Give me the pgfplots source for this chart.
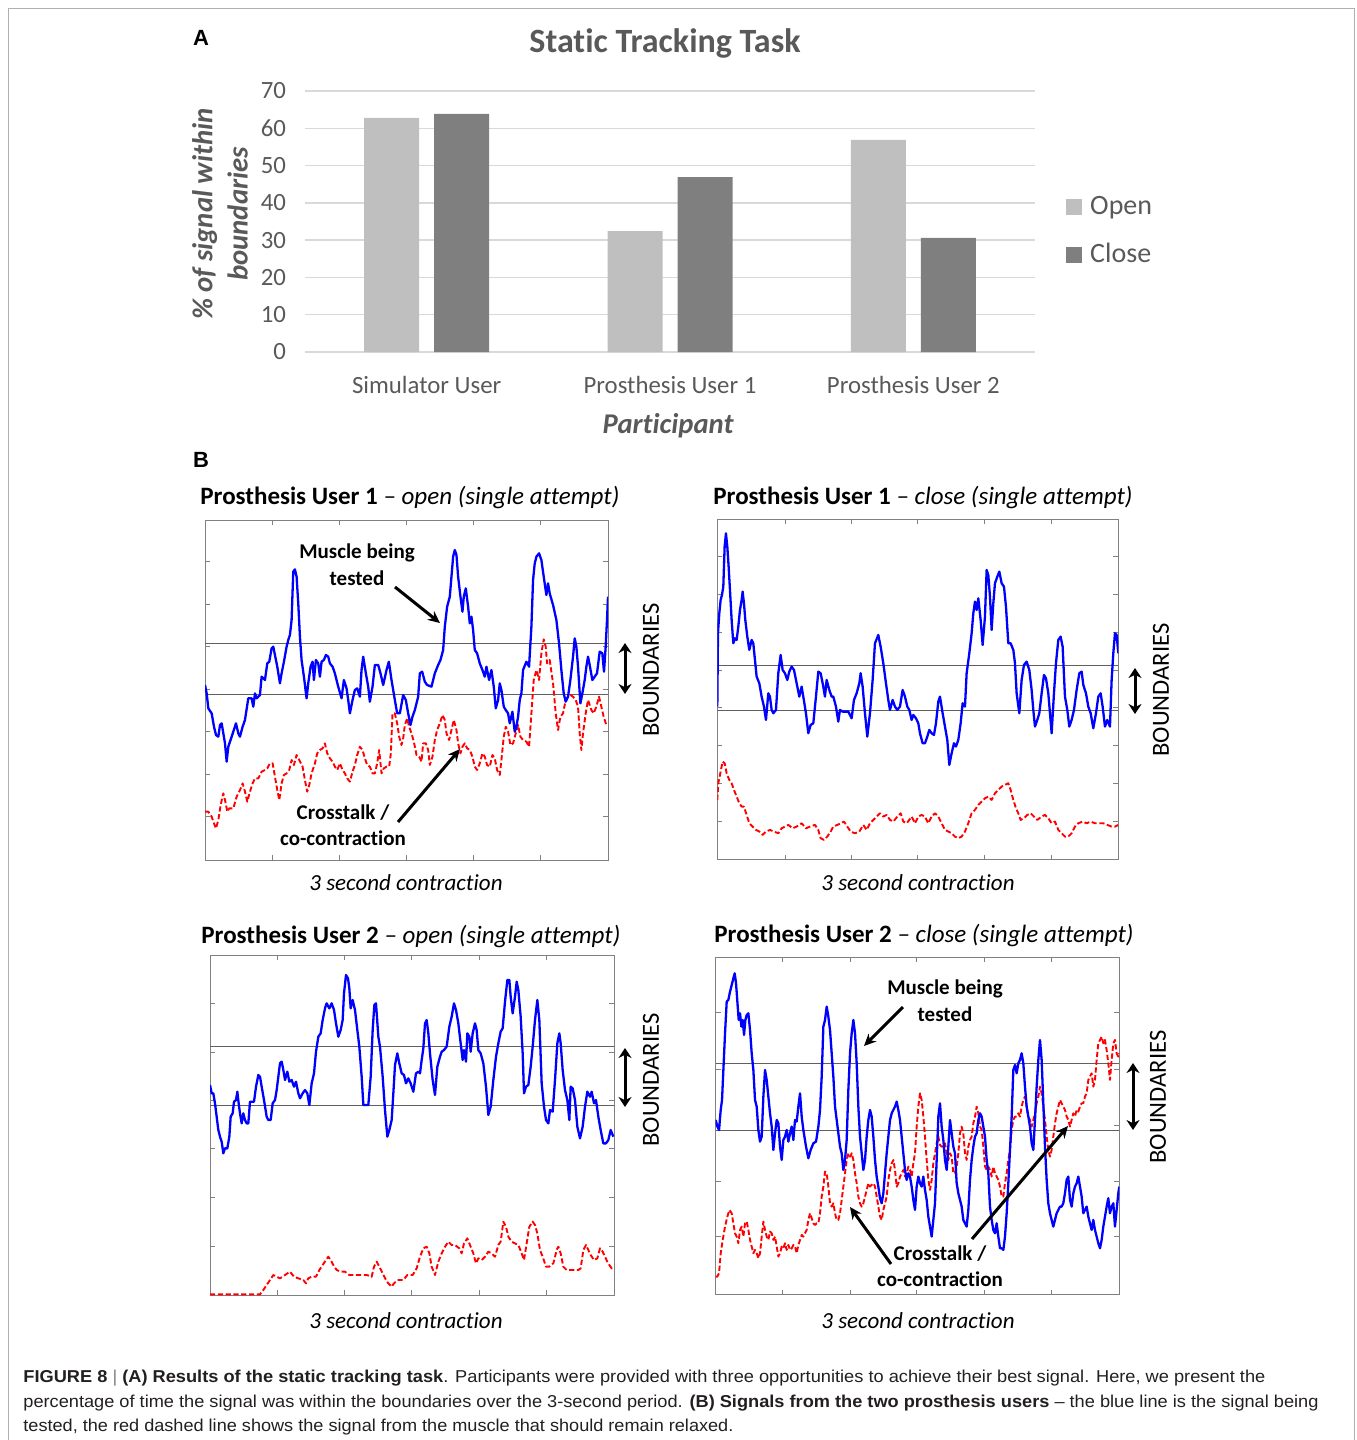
\documentclass[border=0pt]{standalone}
\usepackage{pgfplots}
\pgfplotsset{compat=1.18}
\usepackage{fontspec}
\usetikzlibrary{arrows.meta}
\setmainfont{Carlito}[Ligatures=NoCommon]
\newfontfamily\capfont{Liberation Sans}
\definecolor{txtgray}{HTML}{595959}
\definecolor{gridgray}{HTML}{D9D9D9}
\definecolor{openc}{HTML}{BFBFBF}
\definecolor{closec}{HTML}{7F7F7F}
\definecolor{boxgray}{HTML}{808080}
\definecolor{bndgray}{HTML}{606060}
\definecolor{frame}{HTML}{B0B0B0}
\definecolor{captxt}{HTML}{231F20}
\pgfplotsset{
  sigpanel/.style={
    scale only axis, anchor=north west, y dir=reverse,
    axis line style={boxgray, line width=0.5pt},
    major tick style={boxgray, line width=0.4pt},
    major tick length=2.5pt,
    xticklabels={}, yticklabels={},
    clip=true,
  },
  blueline/.style={color={rgb,255:red,0;green,0;blue,255}, line width=1.15pt, line join=round, no marks},
  redline/.style={color={rgb,255:red,255;green,0;blue,0}, line width=0.95pt, dash pattern=on 2.6pt off 1.3pt, line join=round, no marks},
  bndline/.style={bndgray, line width=0.5pt, no marks},
}
\begin{document}
\begin{tikzpicture}
\path[use as bounding box] (0,0) rectangle (678pt,-720pt);
\draw[frame, line width=0.5pt] (4pt,-720pt) -- (4pt,-4pt) -- (677pt,-4pt) -- (677pt,-720pt);

% ---------------- Part A: bar chart ----------------
\begin{axis}[
  at={(152.5pt,-176pt)}, anchor=south west,
  scale only axis, width=365pt, height=130.5pt,
  ybar, bar width=27.5pt,
  xmin=-0.5, xmax=2.5, ymin=0, ymax=70,
  ytick={0,10,...,70}, xtick={0,1,2},
  xticklabels={Simulator User, Prosthesis User 1, Prosthesis User 2},
  axis line style={draw=none}, major tick style={draw=none},
  ymajorgrids, grid style={gridgray, line width=0.7pt},
  /pgf/number format/assume math mode=true,
  tick label style={text=txtgray, font=\fontsize{12.4}{14}\selectfont},
  yticklabel style={xshift=-6pt},
  xticklabel style={yshift=-4.5pt},
  legend style={draw=none, fill=none, at={(1.034,0.4636)}, anchor=west,
    font=\fontsize{14}{16}\selectfont, text=txtgray, row sep=11pt,
    nodes={inner sep=1pt},
    /tikz/every odd column/.append style={column sep=3pt}},
  legend cell align=left,
]
\addplot[fill=openc, draw=none, bar shift=-17.5pt,
  legend image code/.code={\fill[openc] (0pt,-4pt) rectangle (8pt,4pt);}]
  coordinates {(0,62.8) (1,32.4) (2,56.9)};
\addplot[fill=closec, draw=none, bar shift=17.5pt,
  legend image code/.code={\fill[closec] (0pt,-4pt) rectangle (8pt,4pt);}]
  coordinates {(0,63.9) (1,46.9) (2,30.6)};
\legend{Open, Close}
\end{axis}

\begin{scope}[x=0.5pt, y=-0.5pt]
\node[font=\capfont\bfseries\fontsize{11}{13}\selectfont] at (201,38) {A};
\node[font=\bfseries\fontsize{17}{20}\selectfont, text=txtgray] at (665,43) {Static Tracking Task};
\node[font=\bfseries\itshape\fontsize{14.4}{17.5}\selectfont, text=txtgray, rotate=90, align=center] at (220,214) {\% of signal within\\boundaries};
\node[font=\bfseries\itshape\fontsize{14.3}{16}\selectfont, text=txtgray] at (668,426) {Participant};
\node[font=\capfont\bfseries\fontsize{11}{13}\selectfont] at (201,460) {B};
\end{scope}

% ---------------- Panel 1: PU1 open ----------------
\begin{axis}[sigpanel, at={(102.5pt,-260pt)}, width=201.5pt, height=170pt,
  xmin=45, xmax=1255, ymin=120, ymax=1140,
  xtick={247,449,650,851,1052}, ytick={245,373,500,628,755,882,1010}]
\addplot[bndline] coordinates {(45,490) (1255,490)};
\addplot[bndline] coordinates {(45,643) (1255,643)};
\addplot[redline] coordinates {(45,995) (55,995) (65,1010) (72,1030) (78,1045) (85,1020) (92,975) (100,940) (105,960) (112,995) (118,985) (130,985) (140,950) (150,930) (158,910) (165,935) (172,965) (180,935) (188,910) (195,895) (205,895) (215,875) (225,870) (232,865) (240,850) (248,850) (255,890) (262,930) (268,960) (275,910) (282,885) (290,880) (298,870) (305,840) (312,855) (320,825) (328,840) (338,860) (345,900) (352,935) (358,915) (365,880) (375,850) (382,820) (390,810) (398,805) (405,790) (412,820) (420,835) (428,845) (435,860) (442,870) (450,850) (458,870) (465,880) (472,895) (480,905) (488,875) (495,855) (502,825) (510,800) (518,810) (525,835) (532,855) (540,860) (548,880) (555,880) (562,850) (568,810) (575,880) (582,865) (590,860) (598,860) (603,820) (608,700) (615,700) (622,730) (628,770) (635,795) (640,775) (645,735) (652,715) (658,740) (665,760) (672,785) (680,825) (688,830) (695,845) (700,790) (708,790) (715,810) (720,855) (728,830) (735,780) (742,750) (750,730) (758,705) (765,720) (770,760) (778,780) (785,750) (792,720) (800,750) (805,790) (812,820) (818,800) (825,790) (832,805) (840,810) (848,830) (855,860) (862,870) (870,850) (878,820) (885,830) (892,855) (900,860) (908,825) (915,835) (922,870) (930,885) (935,840) (942,770) (948,740) (955,755) (962,795) (970,790) (978,760) (985,735) (992,770) (1000,780) (1010,785) (1018,800) (1025,700) (1032,600) (1040,570) (1048,600) (1055,520) (1062,478) (1068,500) (1072,550) (1080,540) (1090,610) (1098,700) (1105,750) (1112,710) (1120,700) (1128,660) (1135,650) (1142,645) (1150,650) (1158,660) (1165,680) (1170,760) (1175,810) (1180,760) (1188,700) (1195,660) (1205,690) (1212,700) (1220,680) (1228,650) (1235,680) (1242,710) (1250,735)};
\addplot[blueline] coordinates {(45,615) (50,640) (55,685) (65,700) (72,740) (78,765) (85,770) (90,735) (95,730) (100,760) (105,790) (110,845) (115,800) (125,770) (130,755) (138,730) (145,760) (150,770) (158,740) (165,720) (175,655) (185,655) (190,680) (195,640) (200,655) (210,645) (215,590) (225,600) (232,550) (238,545) (245,505) (250,500) (255,525) (262,560) (270,610) (275,580) (282,545) (290,500) (295,480) (300,465) (305,420) (310,275) (315,268) (320,290) (325,370) (330,470) (335,540) (342,590) (350,655) (355,610) (362,560) (368,545) (372,600) (378,540) (385,550) (390,590) (395,545) (402,540) (408,525) (415,530) (420,550) (428,560) (435,580) (445,620) (455,655) (462,600) (470,625) (475,660) (480,700) (488,660) (495,630) (502,625) (510,650) (515,570) (520,530) (528,580) (535,620) (540,665) (548,620) (555,555) (565,555) (572,580) (580,615) (590,570) (597,545) (605,600) (615,660) (622,700) (630,700) (640,645) (648,660) (655,700) (662,735) (668,710) (675,690) (685,650) (690,580) (697,575) (705,605) (712,615) (725,620) (735,580) (745,555) (752,540) (760,510) (765,440) (772,380) (780,350) (790,230) (795,210) (800,225) (805,290) (812,350) (818,395) (822,350) (828,325) (835,380) (840,430) (845,410) (850,450) (855,510) (862,520) (870,550) (878,570) (885,590) (890,560) (898,600) (905,570) (912,620) (918,685) (925,660) (930,610) (935,630) (942,680) (948,690) (955,700) (960,730) (968,695) (975,755) (980,740) (985,710) (990,660) (995,640) (1000,570) (1010,545) (1018,560) (1025,440) (1030,300) (1035,250) (1040,230) (1048,220) (1055,240) (1062,290) (1070,345) (1075,310) (1080,340) (1090,375) (1100,420) (1108,490) (1115,570) (1122,640) (1128,665) (1135,650) (1142,600) (1150,530) (1155,475) (1160,500) (1165,560) (1172,670) (1178,640) (1185,600) (1190,560) (1195,530) (1200,555) (1208,600) (1215,590) (1222,580) (1230,515) (1238,520) (1243,575) (1248,500) (1252,420) (1255,350)};
\end{axis}

% ---------------- Panel 2: PU1 close ----------------
\begin{axis}[sigpanel, at={(358.65pt,-259.65pt)}, width=200.5pt, height=170.3pt,
  xmin=52, xmax=1255, ymin=118, ymax=1140,
  xtick={255,455,653,853,1053}, ytick={228,342,456,570,683,797,911,1025}]
\addplot[bndline] coordinates {(52,558) (1255,558)};
\addplot[bndline] coordinates {(52,693) (1255,693)};
\addplot[redline] coordinates {(52,960) (55,910) (62,875) (68,845) (74,850) (80,880) (88,900) (95,910) (102,930) (110,950) (118,970) (125,980) (132,980) (140,1005) (148,1030) (158,1040) (168,1050) (178,1055) (188,1065) (198,1055) (210,1050) (222,1055) (235,1060) (245,1045) (255,1040) (265,1035) (278,1045) (290,1040) (305,1030) (318,1045) (330,1040) (345,1035) (355,1050) (362,1075) (372,1080) (382,1070) (392,1055) (400,1040) (412,1035) (422,1030) (432,1025) (442,1040) (452,1055) (465,1060) (478,1055) (490,1035) (500,1050) (510,1030) (520,1020) (530,1010) (540,1000) (550,1010) (560,1005) (570,1020) (580,1025) (592,1010) (602,1000) (610,1025) (620,1030) (628,1020) (635,1010) (645,1030) (655,1010) (665,1005) (675,1010) (685,1030) (695,1010) (705,1000) (715,1010) (725,1030) (735,1050) (745,1055) (755,1060) (765,1070) (775,1075) (785,1070) (795,1055) (805,1030) (815,1000) (825,990) (835,975) (845,965) (855,955) (865,950) (875,960) (885,940) (895,930) (905,920) (915,915) (925,910) (932,930) (940,960) (948,985) (955,1000) (962,1020) (972,1015) (982,1005) (992,1000) (1002,1010) (1012,1020) (1025,1010) (1035,1005) (1045,1015) (1055,1030) (1065,1025) (1075,1050) (1085,1060) (1095,1070) (1105,1070) (1115,1060) (1125,1040) (1135,1030) (1148,1025) (1160,1030) (1172,1025) (1185,1030) (1198,1030) (1210,1030) (1222,1035) (1235,1040) (1245,1040) (1255,1035)};
\addplot[blueline] coordinates {(52,680) (54,460) (58,400) (62,360) (66,345) (70,320) (74,200) (78,160) (82,200) (86,260) (90,330) (95,420) (100,490) (105,475) (110,480) (115,440) (120,390) (125,360) (128,335) (132,370) (136,420) (142,470) (148,510) (155,480) (160,490) (165,540) (170,590) (178,610) (185,650) (192,680) (198,720) (205,640) (210,650) (215,690) (220,700) (228,690) (235,580) (242,525) (248,570) (255,580) (262,600) (268,575) (275,560) (282,570) (290,610) (298,650) (305,620) (310,650) (318,700) (325,760) (332,735) (340,730) (348,650) (355,575) (362,580) (370,620) (375,650) (380,600) (388,630) (395,650) (400,650) (408,680) (415,725) (420,690) (428,695) (435,695) (445,695) (455,715) (462,660) (470,640) (478,610) (482,580) (488,620) (495,700) (502,770) (510,700) (518,600) (525,490) (535,465) (542,500) (550,550) (558,610) (565,660) (570,690) (578,660) (585,680) (592,690) (600,680) (608,630) (615,650) (622,680) (628,690) (635,720) (640,705) (648,715) (655,730) (660,760) (668,790) (675,790) (682,770) (688,750) (695,760) (702,765) (708,730) (715,665) (720,650) (728,700) (735,740) (742,780) (748,855) (755,820) (762,790) (768,800) (775,780) (782,730) (788,670) (795,680) (800,580) (808,520) (815,460) (820,400) (825,365) (830,390) (835,355) (842,420) (848,495) (855,410) (860,270) (865,285) (870,350) (875,450) (880,370) (885,310) (892,290) (898,275) (905,310) (912,320) (918,380) (925,490) (932,490) (940,510) (945,550) (950,640) (958,700) (965,600) (972,555) (980,545) (988,570) (995,630) (1000,690) (1005,740) (1012,720) (1018,700) (1025,640) (1032,585) (1038,595) (1045,640) (1050,700) (1055,760) (1062,640) (1068,550) (1075,480) (1082,470) (1088,500) (1095,650) (1102,690) (1108,740) (1115,720) (1122,690) (1130,630) (1138,580) (1145,575) (1150,615) (1158,640) (1165,680) (1172,700) (1180,745) (1188,700) (1195,650) (1202,640) (1208,680) (1215,740) (1222,720) (1230,740) (1235,600) (1240,520) (1245,460) (1250,465) (1255,520)};
\end{axis}

% ---------------- Panel 3: PU2 open ----------------
\begin{axis}[sigpanel, at={(105pt,-477.5pt)}, width=202pt, height=170pt,
  xmin=60, xmax=1272, ymin=105, ymax=1125,
  xtick={262,464,665,868,1070}, ytick={249,396,542,686,831,978}]
\addplot[bndline] coordinates {(60,379) (1272,379)};
\addplot[bndline] coordinates {(60,555) (1272,555)};
\addplot[redline] coordinates {(60,1123) (100,1123) (150,1123) (210,1123) (220,1110) (230,1095) (240,1080) (250,1065) (260,1070) (270,1075) (285,1065) (300,1055) (312,1070) (325,1075) (340,1080) (348,1090) (355,1075) (365,1070) (378,1070) (388,1050) (398,1035) (408,1020) (415,1010) (422,1020) (430,1035) (440,1050) (452,1055) (465,1055) (478,1065) (495,1065) (510,1065) (530,1065) (545,1070) (552,1040) (560,1025) (568,1040) (578,1060) (588,1080) (595,1090) (605,1100) (612,1090) (622,1080) (640,1080) (652,1065) (668,1065) (680,1045) (690,1010) (700,985) (710,980) (718,1000) (725,1040) (735,1065) (745,1025) (755,1000) (765,980) (775,965) (785,975) (795,975) (808,985) (815,1000) (822,970) (832,955) (842,980) (850,1000) (858,1030) (865,1015) (875,1020) (885,1010) (895,995) (905,1000) (915,1010) (925,975) (932,965) (940,905) (948,920) (955,950) (965,965) (975,970) (985,975) (995,1000) (1002,1020) (1010,970) (1018,920) (1028,905) (1035,915) (1042,940) (1050,990) (1058,1010) (1068,1040) (1078,1040) (1090,1030) (1100,990) (1105,980) (1112,1000) (1120,1040) (1130,1050) (1140,1050) (1150,1050) (1165,1050) (1172,1045) (1180,990) (1188,975) (1195,990) (1202,1005) (1212,1020) (1222,1015) (1230,985) (1238,995) (1245,1010) (1252,1025) (1258,1035) (1265,1045) (1270,1040)};
\addplot[blueline] coordinates {(60,495) (65,520) (70,520) (75,550) (80,590) (85,630) (90,650) (95,665) (100,700) (105,685) (112,685) (118,650) (122,590) (128,580) (132,545) (138,540) (142,515) (146,550) (150,580) (155,610) (160,580) (165,600) (170,610) (175,610) (180,545) (185,545) (192,545) (198,500) (205,465) (210,470) (215,500) (222,540) (230,590) (235,600) (242,600) (248,550) (255,540) (260,510) (265,470) (270,430) (275,425) (280,450) (285,480) (292,455) (298,485) (305,480) (312,500) (318,485) (325,520) (330,535) (338,520) (345,510) (352,520) (358,555) (365,490) (372,460) (378,395) (385,350) (392,340) (398,300) (405,265) (410,250) (418,265) (425,250) (432,270) (438,310) (445,350) (452,330) (458,300) (462,220) (468,165) (474,175) (478,205) (482,265) (488,240) (495,270) (502,330) (508,380) (515,470) (520,555) (528,555) (535,555) (542,470) (548,330) (553,255) (558,250) (565,350) (570,380) (578,470) (585,570) (592,650) (598,630) (605,600) (610,520) (615,435) (622,400) (628,430) (635,460) (642,465) (648,490) (655,475) (662,490) (670,515) (678,460) (685,455) (690,460) (695,420) (700,385) (705,310) (710,300) (715,340) (720,400) (728,480) (735,525) (742,440) (750,410) (755,395) (762,390) (770,380) (778,320) (785,290) (792,250) (798,270) (805,310) (812,370) (818,420) (822,390) (828,425) (832,340) (838,350) (842,395) (848,340) (855,310) (860,330) (865,390) (872,400) (880,430) (888,500) (895,585) (902,560) (910,480) (918,410) (925,370) (932,335) (938,325) (945,245) (952,180) (958,180) (962,230) (968,280) (975,230) (980,185) (985,210) (992,290) (998,400) (1002,520) (1008,500) (1015,495) (1022,440) (1028,380) (1035,300) (1042,240) (1048,300) (1055,490) (1062,560) (1068,600) (1075,610) (1080,570) (1088,575) (1095,480) (1102,370) (1108,340) (1112,370) (1118,450) (1125,510) (1132,540) (1138,600) (1142,500) (1148,505) (1155,540) (1162,620) (1170,655) (1178,620) (1185,560) (1192,515) (1200,530) (1205,515) (1212,550) (1218,540) (1225,590) (1232,630) (1240,670) (1248,670) (1255,660) (1262,630) (1270,650)};
\end{axis}

% ---------------- Panel 4: PU2 close ----------------
\begin{axis}[sigpanel, at={(357.85pt,-478.65pt)}, width=201.8pt, height=168.8pt,
  xmin=47, xmax=1258, ymin=112, ymax=1125,
  xtick={248,450,650,852,1054}, ytick={278,448,616,783,950}]
\addplot[bndline] coordinates {(47,432) (1258,432)};
\addplot[bndline] coordinates {(47,633) (1258,633)};
\addplot[redline] coordinates {(47,1070) (52,1070) (57,1060) (62,1000) (68,960) (75,920) (82,890) (88,870) (95,880) (100,910) (105,940) (110,950) (115,970) (120,930) (125,920) (130,950) (135,910) (140,905) (145,930) (150,960) (155,980) (160,1000) (165,990) (170,1000) (175,1015) (180,1000) (185,950) (190,905) (195,930) (200,950) (205,960) (210,935) (215,940) (220,960) (225,950) (230,980) (235,1010) (240,1000) (245,980) (250,985) (255,970) (260,990) (265,975) (270,990) (275,985) (280,975) (285,980) (290,1000) (295,975) (300,960) (305,945) (310,950) (315,940) (320,930) (325,900) (330,880) (335,895) (340,910) (345,915) (350,910) (355,910) (360,880) (365,830) (370,800) (375,755) (380,760) (385,800) (390,850) (395,860) (400,850) (405,880) (410,900) (415,900) (420,880) (425,840) (430,800) (435,760) (440,720) (445,700) (450,710) (455,700) (460,720) (465,760) (470,790) (475,830) (480,850) (485,860) (490,850) (495,830) (500,810) (505,790) (510,800) (515,795) (520,790) (525,800) (530,830) (535,860) (540,890) (545,900) (550,870) (555,850) (560,830) (565,780) (570,750) (575,730) (580,720) (585,750) (590,800) (595,790) (600,770) (605,760) (610,750) (615,770) (620,760) (625,740) (630,750) (635,770) (640,730) (645,700) (650,620) (655,560) (660,520) (665,540) (670,590) (675,650) (680,720) (685,780) (690,810) (695,780) (700,730) (705,700) (710,670) (715,650) (720,675) (725,680) (730,680) (735,670) (740,700) (745,720) (750,700) (755,710) (760,760) (765,760) (770,740) (775,700) (780,640) (785,620) (790,640) (795,700) (800,720) (805,680) (810,660) (815,650) (820,610) (825,590) (830,560) (835,580) (840,620) (845,630) (850,680) (855,740) (860,750) (865,740) (870,750) (875,770) (880,740) (885,760) (890,770) (895,780) (900,800) (905,830) (910,830) (915,790) (920,760) (925,720) (930,690) (935,630) (940,600) (945,590) (950,590) (955,580) (960,590) (965,560) (970,540) (975,530) (980,560) (985,590) (990,600) (995,620) (1000,600) (1005,580) (1010,550) (1015,530) (1020,500) (1025,520) (1030,560) (1035,600) (1040,650) (1045,690) (1050,710) (1055,690) (1060,650) (1065,610) (1070,580) (1075,560) (1080,540) (1085,550) (1090,560) (1095,570) (1100,590) (1105,600) (1110,620) (1115,600) (1120,580) (1125,590) (1130,570) (1135,575) (1140,560) (1145,550) (1150,550) (1155,530) (1160,520) (1165,480) (1170,470) (1175,460) (1180,500) (1185,480) (1190,420) (1195,370) (1200,360) (1205,350) (1210,370) (1215,360) (1220,390) (1225,430) (1230,480) (1235,420) (1240,370) (1245,360) (1250,400) (1255,410) (1258,400)};
\addplot[blueline] coordinates {(47,600) (52,620) (57,630) (62,570) (66,540) (70,450) (75,340) (80,245) (85,240) (90,215) (95,195) (100,175) (104,160) (108,190) (112,245) (116,300) (120,280) (124,320) (128,300) (132,345) (136,300) (140,285) (145,280) (150,330) (155,400) (160,450) (165,540) (170,560) (175,630) (180,665) (185,650) (190,530) (195,450) (200,480) (205,530) (210,580) (215,620) (220,690) (225,640) (230,600) (235,610) (240,680) (245,720) (250,660) (255,650) (260,630) (265,665) (270,640) (275,620) (280,660) (285,600) (290,605) (295,560) (300,520) (305,590) (310,630) (318,680) (325,715) (332,690) (340,670) (348,665) (355,620) (360,570) (365,470) (370,320) (375,300) (380,260) (385,290) (390,330) (395,400) (400,470) (405,560) (410,600) (415,640) (420,680) (425,700) (430,750) (435,720) (440,660) (445,510) (450,400) (455,340) (460,300) (465,340) (470,430) (475,560) (480,650) (485,700) (490,750) (495,720) (500,650) (505,600) (510,570) (515,590) (520,650) (525,720) (530,770) (535,800) (540,835) (545,850) (550,820) (555,760) (560,700) (565,650) (570,600) (575,580) (580,570) (585,560) (590,545) (595,570) (600,600) (605,650) (610,700) (615,750) (620,780) (625,760) (630,770) (635,800) (640,840) (645,870) (650,800) (655,770) (660,790) (665,800) (670,770) (675,810) (680,840) (685,890) (690,920) (695,950) (700,900) (705,850) (710,720) (715,590) (720,550) (725,620) (730,660) (735,720) (740,750) (745,680) (750,600) (755,640) (760,680) (765,700) (770,790) (775,820) (780,840) (785,860) (790,900) (795,910) (800,920) (805,870) (810,780) (815,720) (820,680) (825,650) (830,640) (835,600) (840,580) (845,590) (850,620) (855,650) (860,720) (865,760) (870,860) (875,900) (880,930) (885,940) (890,910) (895,950) (900,985) (905,985) (910,990) (915,950) (920,880) (925,790) (930,690) (935,590) (940,450) (945,435) (950,460) (955,430) (960,420) (965,400) (970,430) (975,500) (980,560) (985,590) (990,620) (995,670) (1000,690) (1005,600) (1010,500) (1015,420) (1020,360) (1025,420) (1030,550) (1035,680) (1040,780) (1045,850) (1050,880) (1055,900) (1060,920) (1065,900) (1070,880) (1075,870) (1080,860) (1085,860) (1090,850) (1095,820) (1100,780) (1105,770) (1110,840) (1115,860) (1120,820) (1125,800) (1130,790) (1135,770) (1140,800) (1145,830) (1150,880) (1155,870) (1160,860) (1165,890) (1170,910) (1175,930) (1180,900) (1185,930) (1190,950) (1195,970) (1200,985) (1205,960) (1210,920) (1215,890) (1220,860) (1225,835) (1230,880) (1235,860) (1240,850) (1245,920) (1250,870) (1255,820) (1258,800)};
\end{axis}

% ---------------- Part B texts and annotations ----------------
\begin{scope}[x=0.5pt, y=-0.5pt]
\tikzset{ttl/.style={anchor=west, font=\fontsize{12.5}{14}\selectfont, inner sep=0pt},
  xl/.style={font=\itshape\fontsize{11.5}{13}\selectfont},
  bnd/.style={font=\fontsize{12.3}{14}\selectfont, rotate=90},
  ann/.style={font=\bfseries\fontsize{10.5}{12.5}\selectfont, align=center},
  arr/.style={line width=1.5pt, -{Stealth[length=6pt,width=5.5pt]}},
  darr/.style={line width=1.5pt, {Stealth[length=5pt,width=6.5pt]}-{Stealth[length=5pt,width=6.5pt]}}}
\node[ttl] at (200,498) {\textbf{Prosthesis User 1} \textit{– open (single attempt)}};
\node[ttl] at (713,498) {\textbf{Prosthesis User 1} \textit{– close (single attempt)}};
\node[ttl] at (201,936) {\textbf{Prosthesis User 2} \textit{– open (single attempt)}};
\node[ttl] at (714,935) {\textbf{Prosthesis User 2} \textit{– close (single attempt)}};
\node[xl] at (406,883) {3 second contraction};
\node[xl] at (918,883) {3 second contraction};
\node[xl] at (406,1321) {3 second contraction};
\node[xl] at (918,1321) {3 second contraction};
\node[bnd] at (651,670) {BOUNDARIES};
\node[bnd] at (1161,690) {BOUNDARIES};
\node[bnd] at (651,1080) {BOUNDARIES};
\node[bnd] at (1158,1097) {BOUNDARIES};
\draw[darr] (625,643) -- (625,694);
\draw[darr] (1135,668) -- (1135,714);
\draw[darr] (625,1048) -- (625,1107);
\draw[darr] (1133,1063) -- (1133,1130);
% panel 1
\node[ann] at (357,553) {Muscle being};
\node[ann] at (357,578) {tested};
\draw[arr] (395,587) -- (440,623);
\node[ann] at (343,813) {Crosstalk /};
\node[ann] at (343,838) {co-contraction};
\draw[arr] (398,822) -- (460,749);
% panel 4
\node[ann] at (945,989) {Muscle being};
\node[ann] at (945,1014) {tested};
\draw[arr] (903,1007) -- (864,1046);
\node[ann] at (940,1254) {Crosstalk /};
\node[ann] at (940,1279) {co-contraction};
\draw[arr] (891,1264) -- (850,1207);
\draw[arr] (972,1239) -- (1068,1126);
% caption
\tikzset{captn/.style={anchor=west, inner sep=0pt, text=captxt, font=\capfont\fontsize{8.6}{10}\selectfont}}
\node[captn] at (23,1378) {\resizebox{621pt}{\height}{\textbf{FIGURE 8} \textcolor{gray}{|} \textbf{(A) Results of the static tracking task}. Participants were provided with three opportunities to achieve their best signal. Here, we present the}};
\node[captn] at (23,1403) {\resizebox{647.5pt}{\height}{percentage of time the signal was within the boundaries over the 3-second period. \textbf{(B) Signals from the two prosthesis users} – the blue line is the signal being}};
\node[captn] at (23,1427) {\resizebox{355pt}{\height}{tested, the red dashed line shows the signal from the muscle that should remain relaxed.}};
\end{scope}
\end{tikzpicture}
\end{document}
